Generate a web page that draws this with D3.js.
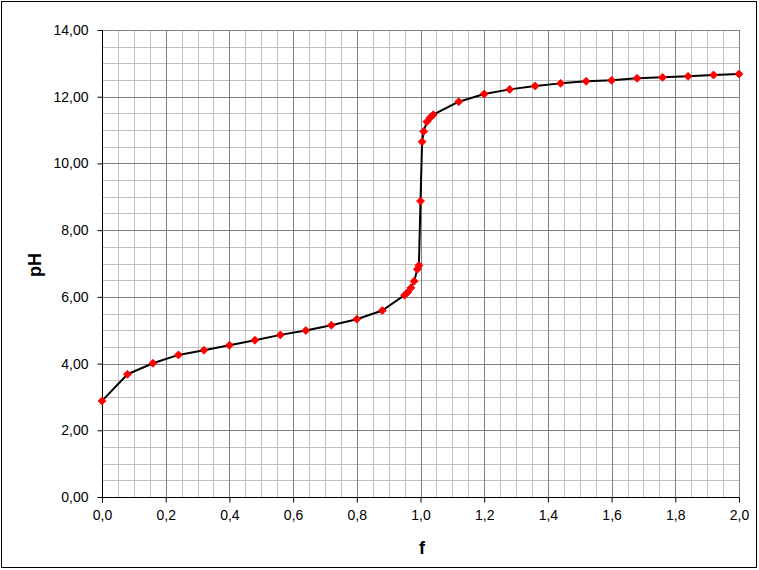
<!DOCTYPE html>
<html>
<head>
<meta charset="utf-8">
<script src="https://cdn.jsdelivr.net/npm/d3@7"></script>
<style>
  body { margin: 0; background: #fff; }
  svg { display: block; font-family: "Liberation Sans", Arial, sans-serif; }
</style>
</head>
<body>
<div id="chart"></div>
<script>
// titration data
var fValues = [0, 0.08, 0.16, 0.24, 0.32, 0.40, 0.48, 0.56, 0.64, 0.72, 0.80, 0.88,
  0.95, 0.96, 0.97, 0.98, 0.99, 0.995, 1.0, 1.005, 1.01, 1.02, 1.03, 1.04,
  1.12, 1.20, 1.28, 1.36, 1.44, 1.52, 1.60, 1.68, 1.76, 1.84, 1.92, 2.00]
var phValues = [2.88, 3.68, 4.01, 4.26, 4.40, 4.55, 4.70, 4.86, 4.99, 5.15, 5.33, 5.59,
  6.05, 6.14, 6.27, 6.47, 6.83, 6.94, 8.87, 10.65, 10.96, 11.25, 11.37, 11.46,
  11.85, 12.08, 12.22, 12.32, 12.40, 12.46, 12.49, 12.55, 12.58, 12.61, 12.65, 12.68]
var xTicks = [0, 0.2, 0.4, 0.6, 0.8, 1.0, 1.2, 1.4, 1.6, 1.8, 2.0]
var yTicks = [0, 2, 4, 6, 8, 10, 12, 14]

var viewWidth = 759
var viewHeight = 570
var plot = {left: 102, right: 739, top: 30, bottom: 497}

var xScale = d3.scaleLinear().domain([0, 2]).range([plot.left, plot.right])
var yScale = d3.scaleLinear().domain([0, 14]).range([plot.bottom, plot.top])

var svg = d3.select('#chart').append('svg')
  .attr('width', viewWidth)
  .attr('height', viewHeight)

// outer frame
svg.append('rect')
  .attr('x', 1.5).attr('y', 1.5)
  .attr('width', 755).attr('height', 566)
  .attr('fill', '#fff').attr('stroke', '#000').attr('stroke-width', 1)

// minor grid
var minorX = d3.range(0, 2.0001, 0.05)
var minorY = d3.range(0, 14.0001, 0.5)
var grid = svg.append('g')
grid.selectAll('.mx').data(minorX).enter().append('line')
  .attr('x1', d => Math.round(xScale(d)) + 0.5).attr('x2', d => Math.round(xScale(d)) + 0.5)
  .attr('y1', plot.top).attr('y2', plot.bottom)
  .attr('stroke', '#c0c0c0')
grid.selectAll('.my').data(minorY).enter().append('line')
  .attr('y1', d => Math.round(yScale(d)) + 0.5).attr('y2', d => Math.round(yScale(d)) + 0.5)
  .attr('x1', plot.left).attr('x2', plot.right)
  .attr('stroke', '#c0c0c0')
// major grid
grid.selectAll('.Mx').data(xTicks).enter().append('line')
  .attr('x1', d => Math.round(xScale(d)) + 0.5).attr('x2', d => Math.round(xScale(d)) + 0.5)
  .attr('y1', plot.top).attr('y2', plot.bottom)
  .attr('stroke', '#808080')
grid.selectAll('.My').data(yTicks).enter().append('line')
  .attr('y1', d => Math.round(yScale(d)) + 0.5).attr('y2', d => Math.round(yScale(d)) + 0.5)
  .attr('x1', plot.left).attr('x2', plot.right)
  .attr('stroke', '#808080')

var fmtY = d => d3.format('.2f')(d).replace('.', ',')
var fmtX = d => d3.format('.1f')(d).replace('.', ',')

var xAxis = d3.axisBottom(xScale).tickValues(xTicks).tickFormat(fmtX).tickSize(5).tickPadding(8)
var yAxis = d3.axisLeft(yScale).tickValues(yTicks).tickFormat(fmtY).tickSize(5).tickPadding(9)

svg.append('g')
  .attr('class', 'x axis')
  .attr('transform', 'translate(0,' + (plot.bottom + 0.5) + ')')
  .call(xAxis)
svg.append('g')
  .attr('class', 'y axis')
  .attr('transform', 'translate(' + (plot.left + 0.5) + ',0)')
  .call(yAxis)

svg.selectAll('.axis path, .axis line').attr('stroke', '#000')
svg.selectAll('.axis .domain').attr('d', function() {
  return d3.select(this.parentNode).classed('x')
    ? 'M' + (plot.left) + ',0H' + (plot.right + 0.5)
    : 'M0,' + plot.top + 'V' + (plot.bottom + 0.5)
})
svg.selectAll('.axis text')
  .attr('font-size', 14).attr('fill', '#000')
  .attr('font-family', '"Liberation Sans", Arial, sans-serif')

var points = fValues.map((f, i) => ({f: f, ph: phValues[i]}))

var line = d3.line()
  .x(d => xScale(d.f))
  .y(d => yScale(d.ph))

svg.append('path')
  .datum(points)
  .attr('d', line)
  .attr('fill', 'none')
  .attr('stroke', '#000')
  .attr('stroke-width', 2)
  .attr('stroke-linejoin', 'round')

svg.selectAll('.marker').data(points).enter().append('path')
  .attr('class', 'marker')
  .attr('transform', d => 'translate(' + xScale(d.f) + ',' + yScale(d.ph) + ')')
  .attr('d', 'M0,-4L4,0L0,4L-4,0Z')
  .attr('fill', '#ff0000')
  .attr('stroke', '#ff0000')
  .attr('stroke-width', 0.8)

// axis titles
svg.append('text')
  .attr('transform', 'translate(41,265) rotate(-90)')
  .attr('text-anchor', 'middle')
  .attr('font-size', 18).attr('font-weight', 'bold')
  .text('pH')
svg.append('text')
  .attr('x', 422).attr('y', 554)
  .attr('text-anchor', 'middle')
  .attr('font-size', 18).attr('font-weight', 'bold')
  .text('f')
</script>
</body>
</html>
